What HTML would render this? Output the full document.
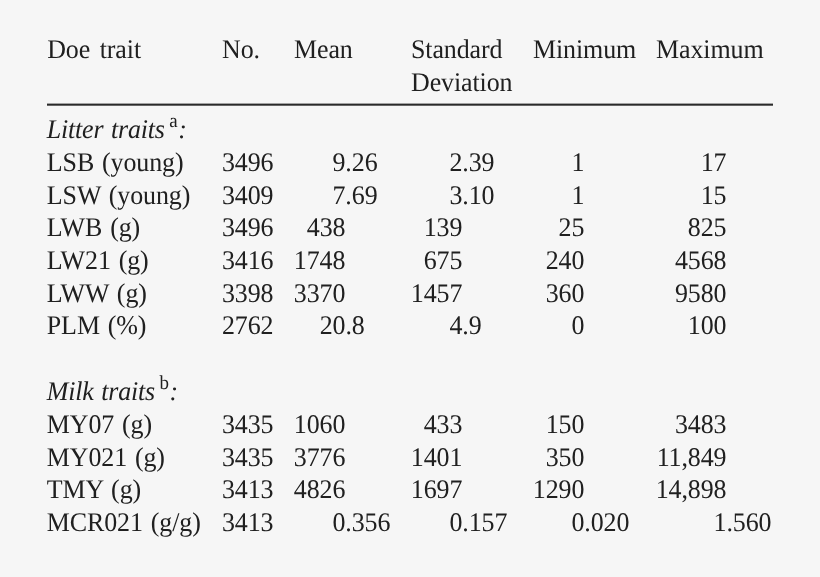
<!DOCTYPE html>
<html><head><meta charset="utf-8"><title>Table</title>
<style>
html,body{margin:0;padding:0;}
body{width:820px;height:577px;background:#f6f6f6;position:relative;overflow:hidden;font-family:"Liberation Serif",serif;font-size:26px;color:#202020;}
.w{position:absolute;left:0;top:0;width:820px;height:577px;transform-origin:0 0;transform:matrix(1,0,0.0015,1.035,0,0);}
.t{position:absolute;white-space:pre;line-height:30px;word-spacing:1.5px;letter-spacing:-0.12px;}
.t i{word-spacing:1.4px;letter-spacing:-0.2px;}
.t sup{font-size:19px;line-height:0;vertical-align:baseline;position:relative;top:-10px;margin-left:4.5px;margin-right:0.5px;letter-spacing:0;font-style:normal;}
.rule{position:absolute;left:0;top:0;}
</style></head><body>
<svg class="rule" width="820" height="577"><rect x="47" y="103.6" width="726" height="2.1" fill="#2a2a2a"/></svg>
<div class="w">
<span class="t" style="left:47.11px;top:32.80px"><span style="word-spacing:3.2px">Doe trait</span></span>
<span class="t" style="left:221.91px;top:32.80px">No.</span>
<span class="t" style="left:293.91px;top:32.80px">Mean</span>
<span class="t" style="left:410.91px;top:32.80px">Standard</span>
<span class="t" style="left:410.86px;top:64.80px">Deviation</span>
<span class="t" style="left:532.91px;top:32.80px">Minimum</span>
<span class="t" style="left:655.91px;top:32.80px">Maximum</span>
<span class="t" style="left:46.59px;top:109.80px"><i>Litter traits</i><sup>a</sup><i>:</i></span>
<span class="t" style="left:46.54px;top:141.80px">LSB (young)</span>
<span class="t" style="left:221.74px;top:141.80px">3496</span>
<span class="t" style="right:474.86px;top:141.80px">9</span>
<span class="t" style="left:345.14px;top:141.80px">.26</span>
<span class="t" style="right:357.96px;top:141.80px">2</span>
<span class="t" style="left:462.04px;top:141.80px">.39</span>
<span class="t" style="right:235.96px;top:141.80px">1</span>
<span class="t" style="right:93.76px;top:141.80px">17</span>
<span class="t" style="left:46.49px;top:173.80px">LSW (young)</span>
<span class="t" style="left:221.69px;top:173.80px">3409</span>
<span class="t" style="right:474.91px;top:173.80px">7</span>
<span class="t" style="left:345.09px;top:173.80px">.69</span>
<span class="t" style="right:358.01px;top:173.80px">3</span>
<span class="t" style="left:461.99px;top:173.80px">.10</span>
<span class="t" style="right:236.01px;top:173.80px">1</span>
<span class="t" style="right:93.81px;top:173.80px">15</span>
<span class="t" style="left:46.45px;top:204.80px">LWB (g)</span>
<span class="t" style="left:221.65px;top:204.80px">3496</span>
<span class="t" style="right:474.95px;top:204.80px">438</span>
<span class="t" style="right:358.05px;top:204.80px">139</span>
<span class="t" style="right:236.05px;top:204.80px">25</span>
<span class="t" style="right:93.85px;top:204.80px">825</span>
<span class="t" style="left:46.40px;top:236.80px">LW21 (g)</span>
<span class="t" style="left:221.60px;top:236.80px">3416</span>
<span class="t" style="right:475.00px;top:236.80px">1748</span>
<span class="t" style="right:358.10px;top:236.80px">675</span>
<span class="t" style="right:236.10px;top:236.80px">240</span>
<span class="t" style="right:93.90px;top:236.80px">4568</span>
<span class="t" style="left:46.35px;top:268.80px">LWW (g)</span>
<span class="t" style="left:221.55px;top:268.80px">3398</span>
<span class="t" style="right:475.05px;top:268.80px">3370</span>
<span class="t" style="right:358.15px;top:268.80px">1457</span>
<span class="t" style="right:236.15px;top:268.80px">360</span>
<span class="t" style="right:93.95px;top:268.80px">9580</span>
<span class="t" style="left:46.30px;top:299.80px">PLM (%)</span>
<span class="t" style="left:221.50px;top:299.80px">2762</span>
<span class="t" style="right:475.10px;top:299.80px">20</span>
<span class="t" style="left:344.90px;top:299.80px">.8</span>
<span class="t" style="right:358.20px;top:299.80px">4</span>
<span class="t" style="left:461.80px;top:299.80px">.9</span>
<span class="t" style="right:236.20px;top:299.80px">0</span>
<span class="t" style="right:94.00px;top:299.80px">100</span>
<span class="t" style="left:46.20px;top:362.80px"><i>Milk traits</i><sup>b</sup><i>:</i></span>
<span class="t" style="left:46.15px;top:394.80px">MY07 (g)</span>
<span class="t" style="left:221.35px;top:394.80px">3435</span>
<span class="t" style="right:475.25px;top:394.80px">1060</span>
<span class="t" style="right:358.35px;top:394.80px">433</span>
<span class="t" style="right:236.35px;top:394.80px">150</span>
<span class="t" style="right:94.15px;top:394.80px">3483</span>
<span class="t" style="left:46.10px;top:426.80px">MY021 (g)</span>
<span class="t" style="left:221.30px;top:426.80px">3435</span>
<span class="t" style="right:475.30px;top:426.80px">3776</span>
<span class="t" style="right:358.40px;top:426.80px">1401</span>
<span class="t" style="right:236.40px;top:426.80px">350</span>
<span class="t" style="right:94.20px;top:426.80px">11,849</span>
<span class="t" style="left:46.05px;top:457.80px">TMY (g)</span>
<span class="t" style="left:221.25px;top:457.80px">3413</span>
<span class="t" style="right:475.35px;top:457.80px">4826</span>
<span class="t" style="right:358.45px;top:457.80px">1697</span>
<span class="t" style="right:236.45px;top:457.80px">1290</span>
<span class="t" style="right:94.25px;top:457.80px">14,898</span>
<span class="t" style="left:46.00px;top:489.80px">MCR021 (g/g)</span>
<span class="t" style="left:221.20px;top:489.80px">3413</span>
<span class="t" style="right:475.40px;top:489.80px">0</span>
<span class="t" style="left:344.60px;top:489.80px">.356</span>
<span class="t" style="right:358.50px;top:489.80px">0</span>
<span class="t" style="left:461.50px;top:489.80px">.157</span>
<span class="t" style="right:236.50px;top:489.80px">0</span>
<span class="t" style="left:583.50px;top:489.80px">.020</span>
<span class="t" style="right:94.30px;top:489.80px">1</span>
<span class="t" style="left:725.70px;top:489.80px">.560</span>
</div>
</body></html>
